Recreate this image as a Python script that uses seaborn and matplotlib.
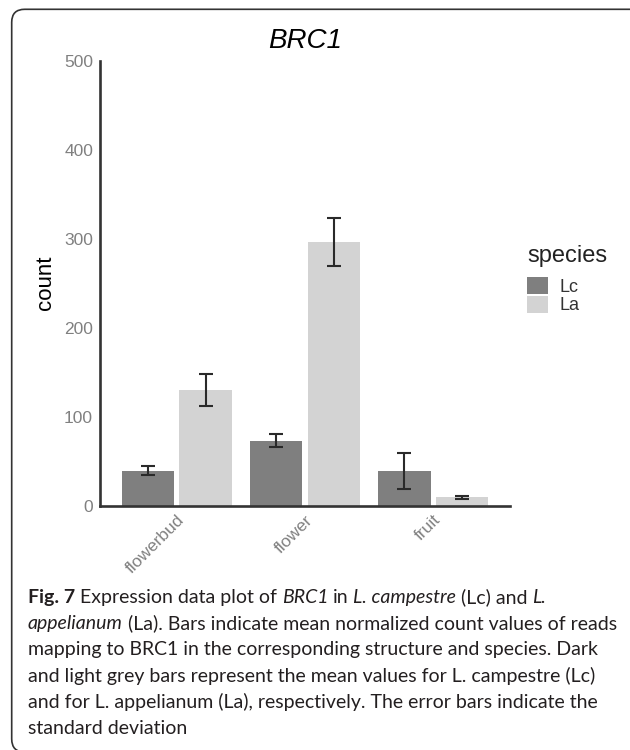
import matplotlib
matplotlib.use("Agg")
import numpy as np
import pandas as pd
import seaborn as sns
import matplotlib.pyplot as plt
from matplotlib.patches import FancyBboxPatch
from matplotlib.transforms import IdentityTransform

# ---------------- data ----------------
structures = ["flowerbud", "flower", "fruit"]
species = ["Lc", "La"]
lc_mean = [39, 73, 39]
la_mean = [130, 296, 9]
lc_sd = [5, 7, 20]
la_sd = [18, 27, 1.5]
y_ticks = [0, 100, 200, 300, 400, 500]
species_colors = {"Lc": "#7f7f7f", "La": "#d3d3d3"}

df = pd.DataFrame({
    "structure": structures * 2,
    "species": ["Lc"] * 3 + ["La"] * 3,
    "count": lc_mean + la_mean,
    "sd": lc_sd + la_sd,
})

sns.set_theme(style="white")
plt.rcParams["font.family"] = ["Liberation Sans", "DejaVu Sans"]

W, H = 630, 750
fig = plt.figure(figsize=(W / 100, H / 100), dpi=100)
fig.patch.set_facecolor("white")

ax = fig.add_axes([100 / W, (H - 505.5) / H, 410 / W, 444.5 / H])
sns.barplot(data=df, x="structure", y="count", hue="species",
            order=structures, hue_order=species, palette=species_colors,
            width=0.9, gap=0.09, errorbar=None, saturation=1,
            linewidth=0, ax=ax)

# error bars (standard deviation) on top of each bar
for sp, cont in zip(species, ax.containers):
    sub = df[df["species"] == sp].set_index("structure").loc[structures]
    xs = [b.get_x() + b.get_width() / 2 for b in cont]
    ax.errorbar(xs, sub["count"].values, yerr=sub["sd"].values, fmt="none",
                ecolor="#2a2a2a", elinewidth=1.5, capsize=4.8, capthick=1.5,
                zorder=5)

ax.set_xlim(-0.6, 2.6)
ax.set_ylim(0, 500)
ax.set_yticks(y_ticks)
ax.set_yticklabels([str(t) for t in y_ticks])
ax.set_xticks(range(len(structures)))
ax.set_xticklabels(structures, rotation=45, ha="right", va="top",
                   rotation_mode="anchor")

for s in ["top", "right"]:
    ax.spines[s].set_visible(False)
for s in ["left", "bottom"]:
    ax.spines[s].set_color("#333333")
    ax.spines[s].set_linewidth(1.9)
ax.tick_params(axis="both", which="major", length=3, width=1.2,
               color="#333333", labelcolor="#808080", labelsize=12.5, pad=2)
ax.tick_params(axis="x", pad=2)
ax.grid(False)

ax.set_xlabel("")
ax.set_ylabel("count", fontsize=16, color="black", labelpad=6)
ax.set_title("BRC1", fontsize=20, fontstyle="italic", color="black", pad=9.4)

# legend
handles, labels = ax.get_legend_handles_labels()
if ax.get_legend() is not None:
    ax.get_legend().remove()
leg = fig.legend(handles, labels, title="species", loc="upper left",
                 bbox_to_anchor=(527 / W, 1 - 245 / H), frameon=False,
                 fontsize=13, title_fontsize=17, borderpad=0, borderaxespad=0,
                 handlelength=1.15, handleheight=1.1, labelspacing=0,
                 handletextpad=0.65, alignment="left")
for t in leg.get_texts():
    t.set_color("#333333")
leg.get_title().set_color("#222222")
leg._legend_box.sep = 7

# rounded border around the figure
border = FancyBboxPatch((11.7, -2), 640, H - 9.3 + 2,
                        boxstyle="round,pad=0,rounding_size=13",
                        transform=IdentityTransform(), facecolor="none",
                        edgecolor="#333333", linewidth=1.2)
fig.add_artist(border)

# caption
cap_font = ["Lato", "DejaVu Sans"]
cap_color = "#231f20"
renderer = fig.canvas.get_renderer()
styles = {
    "n": dict(fontstyle="normal", fontweight="normal"),
    "i": dict(fontstyle="italic", fontweight="normal"),
    "b": dict(fontstyle="normal", fontweight="bold"),
}

lines = [
    [("Fig. 7", "b"), ("Expression data plot of", "n"), ("BRC1", "i"), ("in", "n"),
     ("L. campestre", "i"), ("(Lc) and", "n"), ("L.", "i")],
    [("appelianum", "i"), ("(La). Bars indicate mean normalized count values of reads", "n")],
    [("mapping to BRC1 in the corresponding structure and species. Dark", "n")],
    [("and light grey bars represent the mean values for L. campestre (Lc)", "n")],
    [("and for L. appelianum (La), respectively. The error bars indicate the", "n")],
    [("standard deviation", "n")],
]
baselines = [603, 629.2, 655.4, 681.6, 707.8, 734]


def text_width(s, size, st):
    t = fig.text(0, 0, s, fontsize=size, family=cap_font, **styles[st])
    w = t.get_window_extent(renderer).width
    t.remove()
    return w


def space_width(size, st):
    return text_width("x x", size, st) - text_width("xx", size, st)


def line_width(segs, size):
    w = 0
    for k, (s, st) in enumerate(segs):
        if k > 0:
            w += space_width(size, st)
        w += text_width(s, size, st)
    return w


# fit caption size so that the longest line spans the measured width
base = 10.0
cap_size = base * 587 / line_width(lines[1], base)

for segs, yb in zip(lines, baselines):
    x = 28
    for k, (s, st) in enumerate(segs):
        if k > 0:
            x += space_width(cap_size, st)
        t = fig.text(x / W, (H - yb) / H, s, fontsize=cap_size, family=cap_font,
                     color=cap_color, ha="left", va="baseline", **styles[st])
        x += t.get_window_extent(renderer).width

fig.savefig("out.png", dpi=100)
